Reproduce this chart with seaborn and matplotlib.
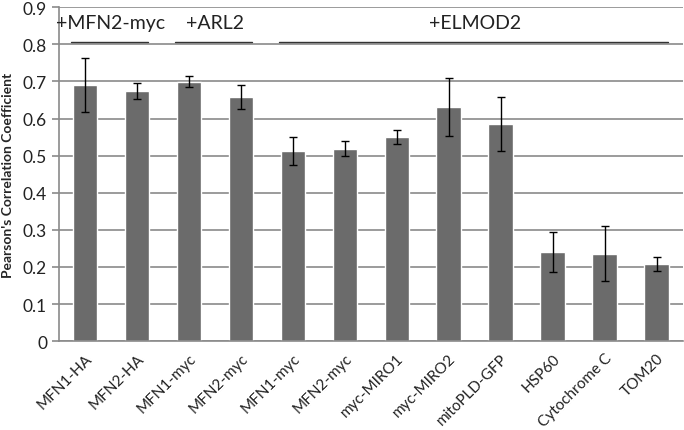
import numpy as np
import pandas as pd
import matplotlib
matplotlib.use("Agg")
import matplotlib.pyplot as plt
import seaborn as sns

labels = ["MFN1-HA", "MFN2-HA", "MFN1-myc", "MFN2-myc", "MFN1-myc", "MFN2-myc",
          "myc-MIRO1", "myc-MIRO2", "mitoPLD-GFP", "HSP60", "Cytochrome C", "TOM20"]
means = [0.690, 0.675, 0.699, 0.659, 0.513, 0.519, 0.550, 0.630, 0.585, 0.240, 0.236, 0.207]
errs = [0.072, 0.022, 0.015, 0.032, 0.037, 0.021, 0.019, 0.078, 0.072, 0.054, 0.075, 0.019]

groups = ["+MFN2-myc", "+ARL2", "+ELMOD2"]
group_spans = [(0, 1), (2, 3), (4, 11)]

sns.set_style("white")
plt.rcParams['font.family'] = ['Lato', 'DejaVu Sans']

df = pd.DataFrame({"pos": [str(i) for i in range(len(labels))], "value": means})

fig = plt.figure(figsize=(6.84, 4.31), dpi=100)
ax = fig.add_axes([0.086, 0.206, 0.912, 0.775])

sns.barplot(data=df, x="pos", y="value", color="#6b6b6b", saturation=1,
            width=0.47, errorbar=None, ax=ax, zorder=2)
ax.errorbar(np.arange(len(labels)), means, yerr=errs, fmt="none",
            ecolor="black", elinewidth=1, capsize=3, capthick=1, zorder=3)

ax.set_ylim(0, 0.9)
ax.set_xlim(-0.5, len(labels) - 0.5)
ax.set_yticks(np.arange(0, 0.91, 0.1))
ax.set_yticklabels(["0"] + [f"{v:.1f}" for v in np.arange(0.1, 0.91, 0.1)], fontsize=12.5, color="#222222")
ax.yaxis.grid(True, color="#8a8a8a", linewidth=1.2, zorder=0)
ax.set_axisbelow(True)

ax.set_xticks(np.arange(len(labels)))
ax.set_xticklabels(labels, rotation=45, ha="right", rotation_mode="anchor", fontsize=11, color="#222222")
ax.set_xticks(np.arange(-0.5, len(labels), 1), minor=True)
ax.tick_params(axis="x", which="major", length=0, pad=7)
ax.tick_params(axis="x", which="minor", length=5, color="#8a8a8a", width=1.2, direction="out")
ax.tick_params(axis="y", length=5, color="#8a8a8a", width=1.2, direction="out", left=True)

ax.set_xlabel("")
ax.set_ylabel("Pearson's Correlation Coefficient", fontsize=10, fontweight="bold", labelpad=6)

for s in ["top", "right"]:
    ax.spines[s].set_visible(False)
for s in ["left", "bottom"]:
    ax.spines[s].set_color("#8a8a8a")
    ax.spines[s].set_linewidth(1.2)

# group bars and labels
for name, (a, b) in zip(groups, group_spans):
    ax.plot([a - 0.27, b + 0.22], [0.807, 0.807], color="#333333", lw=1, clip_on=False, zorder=4)
    ax.text((a + b) / 2, 0.86, name, ha="center", va="center", fontsize=14, color="#222222")

fig.savefig("out.png", dpi=100)
